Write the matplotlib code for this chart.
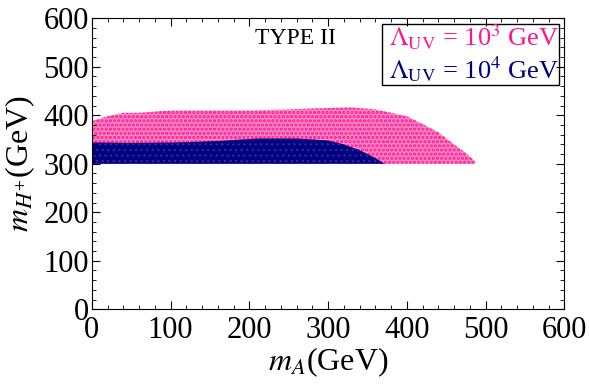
import numpy as np
import matplotlib.pyplot as plt
from matplotlib.ticker import MultipleLocator

# envelope of the scanned points (m_A, upper m_H+)
mA_1e3 = [0, 20, 40, 60, 100, 150, 200, 250, 300, 330, 360, 380, 400, 420, 440, 460, 475, 487]
mH_top_1e3 = [388, 398, 405, 405, 410, 410, 410, 412, 415, 416, 412, 405, 398, 382, 365, 340, 322, 305]
mA_1e4 = [0, 50, 110, 160, 210, 260, 300, 320, 340, 355, 365, 372]
mH_top_1e4 = [344, 343, 344, 347, 352, 352, 348, 340, 328, 316, 307, 300]
mH_floor = 300

pink = '#ff1493'
navy = '#000080'

plt.rcParams['font.family'] = ['Liberation Serif', 'DejaVu Serif']
plt.rcParams['mathtext.fontset'] = 'stix'

fig, ax = plt.subplots(figsize=(5.89, 3.89), dpi=100)
fig.subplots_adjust(left=0.156, right=0.958, top=0.953, bottom=0.205)

plt.rcParams['hatch.linewidth'] = 1.6
ax.fill_between(mA_1e3, mH_floor, mH_top_1e3, facecolor='#ff8cc6', edgecolor=pink,
                hatch='....', linewidth=0)
plt.rcParams['hatch.linewidth'] = 1.0
ax.fill_between(mA_1e4, mH_floor, mH_top_1e4, facecolor=navy, edgecolor='#2a2a9a',
                hatch='...', linewidth=0)

ax.set_xlim(0, 600)
ax.set_ylim(0, 600)
ax.xaxis.set_major_locator(MultipleLocator(100))
ax.xaxis.set_minor_locator(MultipleLocator(20))
ax.yaxis.set_major_locator(MultipleLocator(100))
ax.yaxis.set_minor_locator(MultipleLocator(20))
ax.tick_params(which='both', direction='in', top=True, right=True, labelsize=22)
ax.tick_params(axis='y', pad=2)
ax.tick_params(axis='x', pad=5)
ax.tick_params(which='major', length=6)
ax.tick_params(which='minor', length=3)

ax.set_xlabel(r'$m_A$(GeV)', fontsize=23, labelpad=0)
ax.set_ylabel(r'$m_{H^{+}}$(GeV)', fontsize=23, labelpad=5)

ax.text(0.43, 0.93, 'TYPE II', transform=ax.transAxes, fontsize=17, ha='center', va='center')

ax.text(0.99, 0.985, r'$\Lambda_{\rm UV}$ = 10$^3$ GeV', transform=ax.transAxes,
        fontsize=19, color=pink, ha='right', va='top')
ax.text(0.99, 0.875, r'$\Lambda_{\rm UV}$ = 10$^4$ GeV', transform=ax.transAxes,
        fontsize=19, color=navy, ha='right', va='top')
ax.add_patch(plt.Rectangle((0.615, 0.77), 0.373, 0.21, transform=ax.transAxes,
                           fill=False, edgecolor='black', linewidth=1))

fig.savefig('out.png', dpi=100)
